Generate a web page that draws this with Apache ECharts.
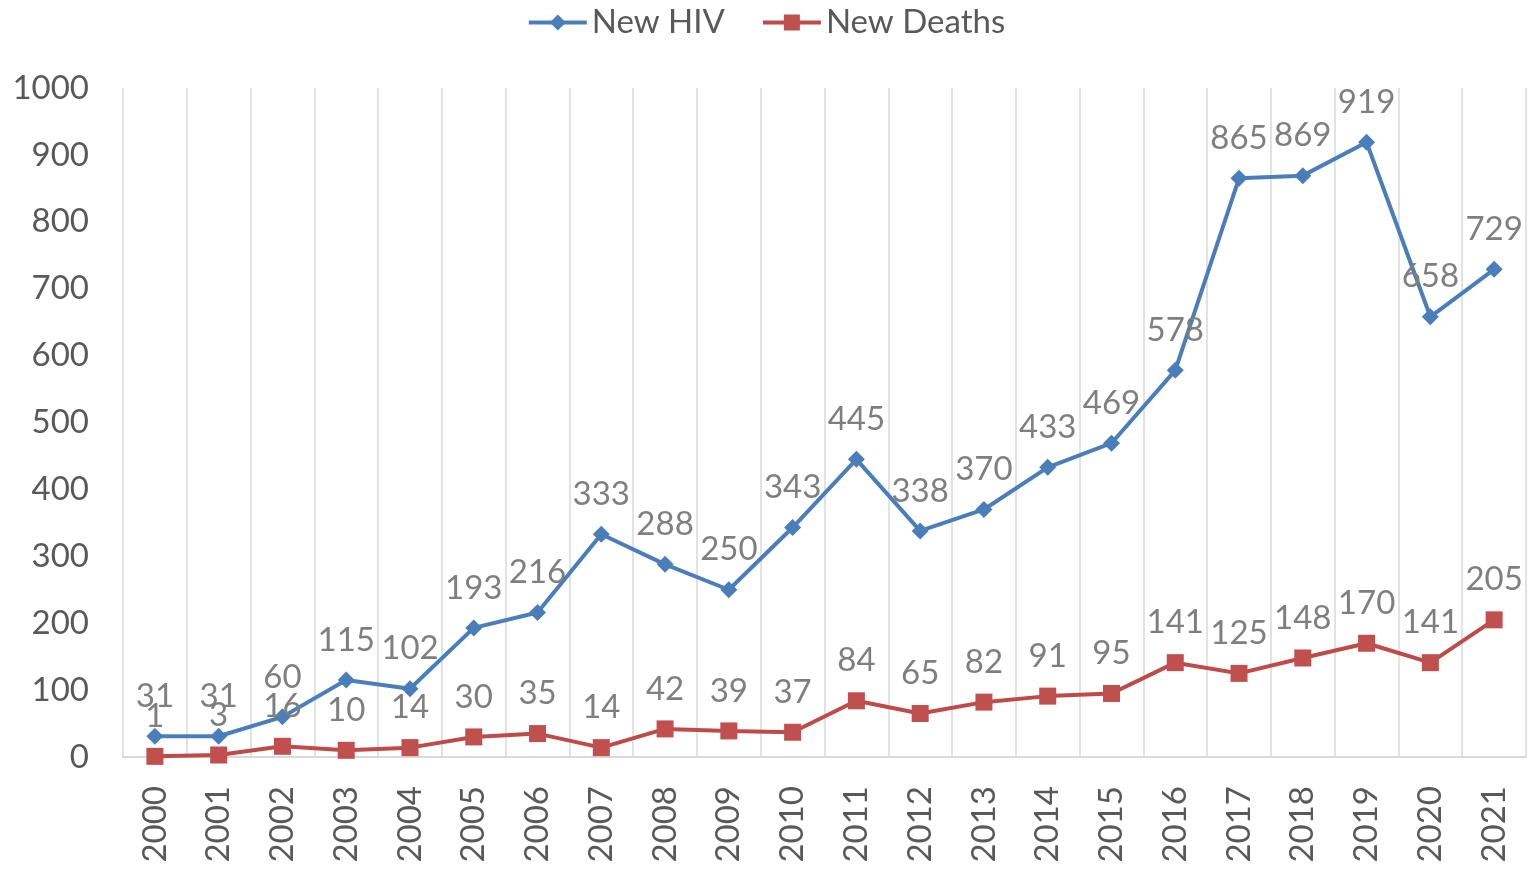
<!DOCTYPE html>
<html><head><meta charset="utf-8">
<script src="https://cdn.jsdelivr.net/npm/echarts@6/dist/echarts.min.js"></script>
<style>html,body{margin:0;padding:0;background:#fff}#c{width:1532px;height:874px}</style>
</head><body><div id="c"></div>
<script>
const years = ['2000','2001','2002','2003','2004','2005','2006','2007','2008','2009','2010','2011','2012','2013','2014','2015','2016','2017','2018','2019','2020','2021'];
const newHIV = [31,31,60,115,102,193,216,333,288,250,343,445,338,370,433,469,578,865,869,919,658,729];
const newDeaths = [1,3,16,10,14,30,35,14,42,39,37,84,65,82,91,95,141,125,148,170,141,205];
const yTicks = [0,100,200,300,400,500,600,700,800,900,1000];

const FONT = 'Lato';
const chart = echarts.init(document.getElementById('c'));
const labelStyle = {show:true, position:'top', distance:15, fontSize:33, color:'#7f7f7f', fontFamily:FONT};
chart.setOption({
  animation:false,
  textStyle:{fontFamily:FONT},
  legend:{
    top:1, left:'center', itemWidth:58, itemHeight:20, itemGap:36,
    textStyle:{fontSize:33, color:'#595959', fontFamily:FONT},
    lineStyle:{width:4},
    data:['New HIV','New Deaths']
  },
  grid:{left:123, right:6, top:88, bottom:117, containLabel:false},
  xAxis:{
    type:'category', data:years, boundaryGap:true,
    axisLine:{lineStyle:{color:'#d9d9d9', width:2}},
    axisTick:{show:false},
    splitLine:{show:true, lineStyle:{color:'#d9d9d9', width:1.5}},
    axisLabel:{rotate:90, fontSize:33, color:'#595959', margin:29, fontFamily:FONT, interval:0}
  },
  yAxis:{
    type:'value', min:0, max:1000, interval:100,
    axisLine:{show:false}, axisTick:{show:false},
    splitLine:{show:false},
    axisLabel:{fontSize:33, color:'#595959', margin:34, fontFamily:FONT,
      formatter:v=>yTicks.includes(v)?String(v):''}
  },
  series:[
    {name:'New HIV', type:'line', data:newHIV, symbol:'diamond', symbolSize:17,
      lineStyle:{color:'#4a7ebb', width:4}, itemStyle:{color:'#4a7ebb'}, label:labelStyle},
    {name:'New Deaths', type:'line', data:newDeaths, symbol:'rect', symbolSize:17,
      lineStyle:{color:'#be4b48', width:4}, itemStyle:{color:'#c0504d'}, label:labelStyle}
  ]
});
</script></body></html>
